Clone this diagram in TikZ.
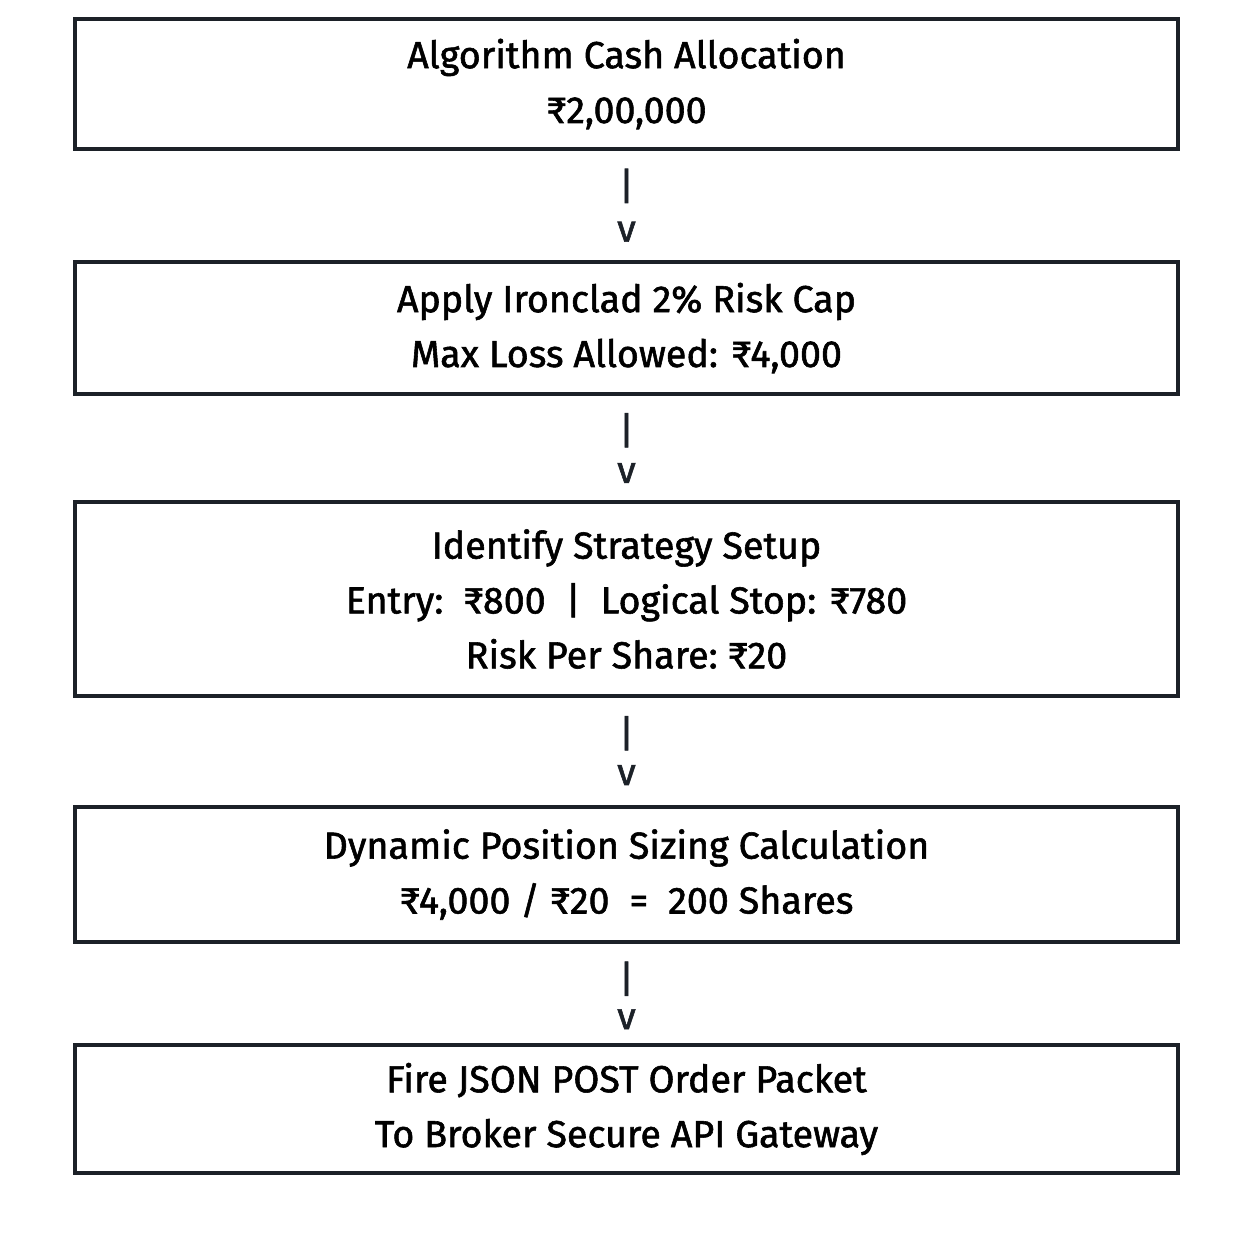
\documentclass[tikz,border=0pt]{standalone}
\usepackage{fontspec}
\setmainfont{Fira Sans}[FakeBold=1.5]
\usetikzlibrary{positioning}

\definecolor{boxline}{HTML}{1C2128}

\tikzset{
    stepbox/.style={draw=boxline, line width=1.1pt, minimum width=11.03cm, align=center,
        font=\fontsize{10.7}{15.6}\selectfont, text=black},
    flowmark/.style={font=\fontsize{10.7}{12}\selectfont, text=boxline, inner sep=0pt}
}

\begin{document}
\begin{tikzpicture}[x=0.01cm, y=-0.01cm]

    % page
    \useasboundingbox[fill=white] (0,0) rectangle (1254,1254);

    % allocation
    \node[stepbox, minimum height=1.30cm] (alloc) at (626.5,84) {Algorithm Cash Allocation\\ ₹2,00,000};

    % risk cap
    \node[stepbox, minimum height=1.32cm] (riskcap) at (626.5,328) {Apply Ironclad 2\% Risk Cap\\ Max Loss Allowed: ₹4,000};

    % setup
    \node[stepbox, minimum height=1.94cm] (setup) at (626.5,599) {Identify Strategy Setup\\ Entry:\ \ ₹800\ \ |\ \ Logical Stop: ₹780\\ Risk Per Share:\ ₹20};

    % sizing
    \node[stepbox, minimum height=1.35cm] (sizing) at (626.5,874.5) {Dynamic Position Sizing Calculation\\ ₹4,000 / ₹20\ \ =\ \ 200 Shares};

    % order
    \node[stepbox, minimum height=1.28cm] (order) at (626.5,1109) {Fire JSON POST Order Packet\\ To Broker Secure API Gateway};

    % connectors
    \path (alloc.south) -- (riskcap.north) node[flowmark, pos=0.32] {|} node[flowmark, pos=0.74] {v};
    \path (riskcap.south) -- (setup.north) node[flowmark, pos=0.33] {|} node[flowmark, pos=0.74] {v};
    \path (setup.south) -- (sizing.north) node[flowmark, pos=0.33] {|} node[flowmark, pos=0.72] {v};
    \path (sizing.south) -- (order.north) node[flowmark, pos=0.35] {|} node[flowmark, pos=0.76] {v};

\end{tikzpicture}
\end{document}
